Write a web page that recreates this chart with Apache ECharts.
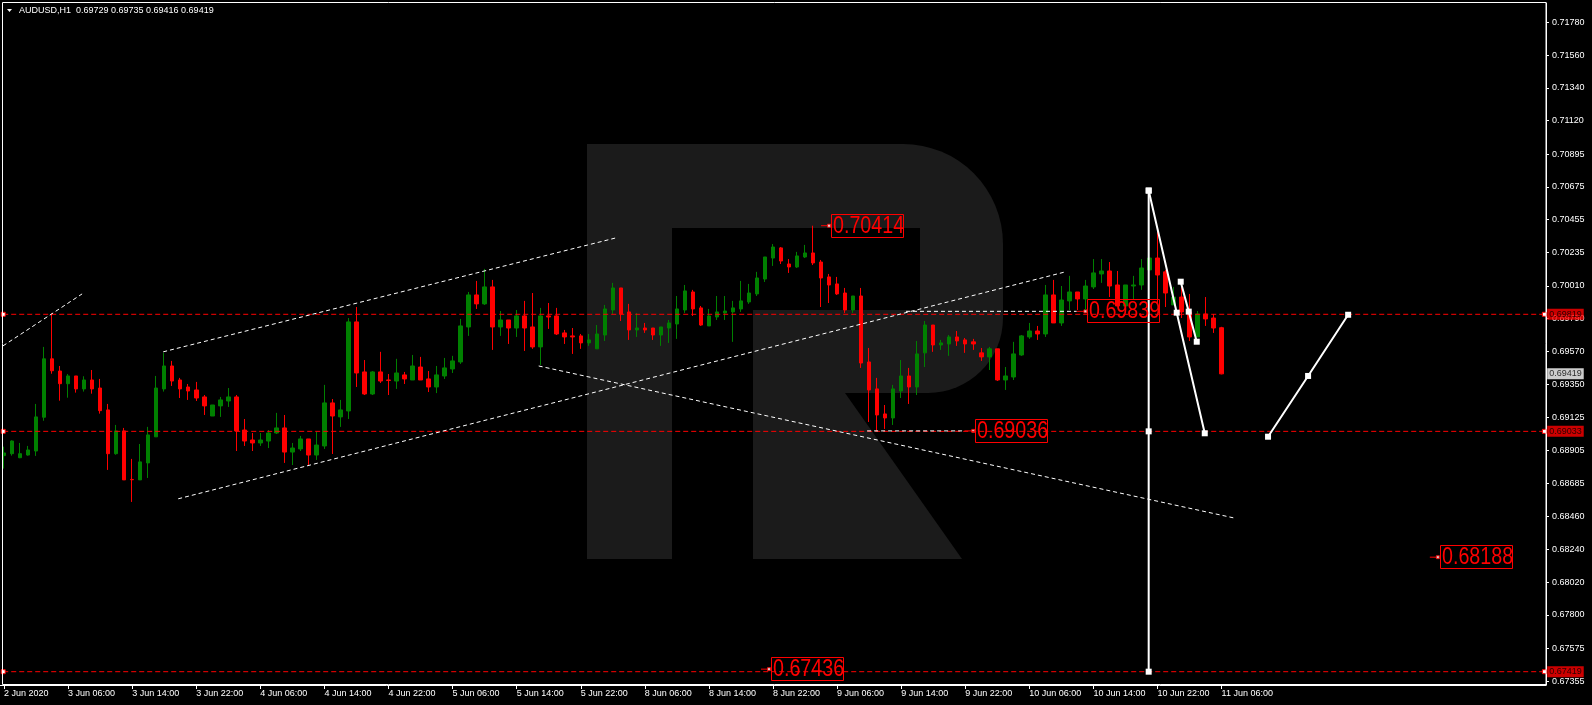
<!DOCTYPE html>
<html><head><meta charset="utf-8">
<script src="https://cdn.jsdelivr.net/npm/echarts@6/dist/echarts.min.js"></script>
<style>html,body{margin:0;padding:0;background:#000;}#c{width:1592px;height:705px;}</style>
</head><body><div id="c"></div>
<script>
// ---------- DATA ----------
const symbolName = 'AUDUSD,H1';
const opens = [0.68870,0.68883,0.68856,0.68874,0.68901,0.69128,0.69520,0.69438,0.69353,0.69405,
0.69318,0.69378,0.69324,0.69177,0.68883,0.69036,0.68710,0.68707,0.68821,0.68996,
0.69318,0.69472,0.69378,0.69331,0.69311,0.69264,0.69136,0.69204,0.69237,0.69264,
0.69042,0.68975,0.68955,0.68968,0.69022,0.69056,0.68894,0.68915,0.68982,0.68874,
0.68935,0.69224,0.69130,0.69170,0.69768,0.69432,0.69284,0.69432,0.69378,0.69371,
0.69412,0.69378,0.69465,0.69385,0.69331,0.69405,0.69452,0.69499,0.69734,0.69949,
0.69889,0.70003,0.69734,0.69781,0.69727,0.69808,0.69734,0.69600,0.69808,0.69808,
0.69694,0.69674,0.69674,0.69627,0.69587,0.69680,0.69848,0.69996,0.69835,0.69714,
0.69727,0.69727,0.69680,0.69727,0.69754,0.69848,0.69969,0.69862,0.69741,0.69801,
0.69828,0.69835,0.69855,0.69902,0.69956,0.70056,0.70197,0.70265,0.70157,0.70137,
0.70204,0.70231,0.70170,0.70070,0.70023,0.69962,0.69848,0.69942,0.69499,0.69318,
0.69150,0.69123,0.69304,0.69405,0.69331,0.69560,0.69747,0.69613,0.69620,0.69667,
0.69647,0.69634,0.69560,0.69533,0.69587,0.69378,0.69398,0.69546,0.69667,0.69707,
0.69687,0.69949,0.69761,0.69909,0.69969,0.69922,0.70003,0.70090,0.70110,0.70016,
0.69875,0.70009,0.70016,0.70117,0.70197,0.70104,0.69882,0.69935,0.69835,0.69667,
0.69821,0.69794,0.69729];
const closes = [0.68888,0.68968,0.68883,0.68908,0.69130,0.69520,0.69440,0.69353,0.69405,0.69318,
0.69378,0.69318,0.69172,0.68883,0.69036,0.68707,0.68708,0.68828,0.69009,0.69324,
0.69472,0.69371,0.69318,0.69304,0.69257,0.69204,0.69210,0.69244,0.69264,0.69036,
0.68968,0.68955,0.68975,0.69022,0.69056,0.68894,0.68921,0.68982,0.68874,0.68941,
0.69224,0.69136,0.69177,0.69768,0.69425,0.69284,0.69432,0.69371,0.69375,0.69425,
0.69385,0.69472,0.69378,0.69331,0.69412,0.69459,0.69506,0.69741,0.69949,0.69889,
0.70003,0.69734,0.69781,0.69727,0.69808,0.69727,0.69600,0.69808,0.69801,0.69687,
0.69667,0.69667,0.69627,0.69647,0.69687,0.69855,0.69996,0.69821,0.69714,0.69727,
0.69714,0.69680,0.69734,0.69761,0.69855,0.69976,0.69855,0.69747,0.69808,0.69835,
0.69841,0.69862,0.69909,0.69962,0.70063,0.70204,0.70271,0.70177,0.70137,0.70211,
0.70231,0.70164,0.70063,0.70016,0.69956,0.69848,0.69942,0.69492,0.69311,0.69143,
0.69123,0.69318,0.69405,0.69331,0.69553,0.69747,0.69613,0.69627,0.69667,0.69640,
0.69620,0.69620,0.69533,0.69587,0.69378,0.69405,0.69553,0.69674,0.69707,0.69687,
0.69949,0.69761,0.69915,0.69969,0.69922,0.70009,0.70097,0.70110,0.70009,0.69875,
0.70016,0.70016,0.70130,0.70197,0.70083,0.69962,0.69935,0.69835,0.69667,0.69821,
0.69788,0.69727,0.69419];
const lows = [0.68783,0.68870,0.68853,0.68870,0.68868,0.69104,0.69420,0.69239,0.69259,0.69293,
0.69300,0.69286,0.69152,0.68774,0.68876,0.68707,0.68559,0.68707,0.68720,0.68996,
0.69300,0.69338,0.69257,0.69244,0.69237,0.69143,0.69136,0.69130,0.69197,0.68901,
0.68935,0.68901,0.68935,0.68921,0.69015,0.68821,0.68807,0.68901,0.68807,0.68841,
0.68915,0.68881,0.69063,0.69116,0.69331,0.69277,0.69277,0.69358,0.69277,0.69318,
0.69351,0.69378,0.69378,0.69297,0.69290,0.69385,0.69425,0.69486,0.69674,0.69855,
0.69882,0.69580,0.69674,0.69620,0.69667,0.69573,0.69587,0.69479,0.69721,0.69680,
0.69620,0.69553,0.69587,0.69607,0.69587,0.69640,0.69821,0.69774,0.69647,0.69667,
0.69694,0.69647,0.69607,0.69627,0.69654,0.69828,0.69808,0.69741,0.69741,0.69781,
0.69781,0.69634,0.69835,0.69889,0.69942,0.70036,0.70144,0.70157,0.70097,0.70130,
0.70197,0.70150,0.69868,0.69895,0.69949,0.69828,0.69828,0.69459,0.69096,0.69036,
0.69049,0.69076,0.69257,0.69217,0.69277,0.69465,0.69567,0.69580,0.69540,0.69607,
0.69560,0.69580,0.69506,0.69445,0.69371,0.69311,0.69378,0.69540,0.69654,0.69647,
0.69667,0.69761,0.69741,0.69848,0.69848,0.69848,0.69989,0.70030,0.69935,0.69875,
0.69848,0.69915,0.69983,0.70117,0.69895,0.69868,0.69882,0.69794,0.69640,0.69667,
0.69741,0.69694,0.69416];
const highs = [0.68930,0.68972,0.68955,0.68935,0.69217,0.69600,0.69826,0.69472,0.69418,0.69405,
0.69403,0.69445,0.69385,0.69217,0.69076,0.69056,0.68848,0.68948,0.69063,0.69405,
0.69560,0.69506,0.69392,0.69351,0.69365,0.69277,0.69210,0.69264,0.69324,0.69277,
0.69116,0.69022,0.69022,0.69042,0.69157,0.69143,0.68955,0.69002,0.68982,0.69029,
0.69345,0.69250,0.69244,0.69794,0.69868,0.69512,0.69438,0.69567,0.69418,0.69520,
0.69432,0.69546,0.69533,0.69438,0.69472,0.69526,0.69540,0.69788,0.69969,0.70043,
0.70124,0.70050,0.69841,0.69781,0.69848,0.69909,0.69962,0.69862,0.69895,0.69862,
0.69714,0.69727,0.69687,0.69687,0.69747,0.69882,0.70030,0.69996,0.69889,0.69828,
0.69761,0.69727,0.69734,0.69781,0.69942,0.70016,0.69983,0.69875,0.69855,0.69942,
0.69942,0.69909,0.70043,0.70023,0.70104,0.70204,0.70291,0.70271,0.70190,0.70238,
0.70285,0.70414,0.70184,0.70090,0.70070,0.69996,0.69942,0.69996,0.69593,0.69392,
0.69210,0.69345,0.69512,0.69459,0.69640,0.69774,0.69747,0.69647,0.69680,0.69707,
0.69660,0.69654,0.69593,0.69600,0.69587,0.69465,0.69634,0.69680,0.69761,0.69741,
0.70016,0.70050,0.70009,0.70077,0.69969,0.70050,0.70190,0.70190,0.70170,0.70110,
0.70016,0.70077,0.70190,0.70197,0.70379,0.70117,0.70003,0.70009,0.69956,0.69841,
0.69935,0.69821,0.69735];
const totalSlots = 193; // bars + empty future hours visible on the chart
const xTickLabels = ['2 Jun 2020','3 Jun 06:00','3 Jun 14:00','3 Jun 22:00','4 Jun 06:00','4 Jun 14:00',
'4 Jun 22:00','5 Jun 06:00','5 Jun 14:00','5 Jun 22:00','8 Jun 06:00','8 Jun 14:00','8 Jun 22:00',
'9 Jun 06:00','9 Jun 14:00','9 Jun 22:00','10 Jun 06:00','10 Jun 14:00','10 Jun 22:00','11 Jun 06:00'];
const yTickValues = [0.71780,0.71560,0.71340,0.71120,0.70895,0.70675,0.70455,0.70235,0.70010,0.69790,
0.69570,0.69350,0.69125,0.68905,0.68685,0.68460,0.68240,0.68020,0.67800,0.67575,0.67355];
const levelLines = [0.69819, 0.69033, 0.67419];
const currentPrice = 0.69419;
// channel lines: [barIndex, price] pairs
const channelLines = [
  [[-0.125,0.69607],[9.75,0.69956]],
  [[19.875,0.69567],[76.375,0.70332]],
  [[21.75,0.68580],[132.5,0.70104]],
  [[66.75,0.69472],[153.5,0.68452]],
  [[107.75,0.69036],[119.9,0.69036]],
  [[112.6,0.69839],[133.9,0.69839]]
];
// price labels: [price, tick start bar, marker bar]
const priceLabels = [
  [0.70414, 102.0, 103.0],
  [0.69036, 119.9, 121.0],
  [0.69839, 133.9, 135.0],
  [0.68188, 178.0, 179.0],
  [0.67436, 94.5, 95.5]
];
// projection polylines
const projections = [
  [[142.9,0.70650],[142.9,0.69033],[142.9,0.67419]],
  [[142.9,0.70650],[146.4,0.69830],[149.9,0.69020]],
  [[146.9,0.70038],[147.9,0.69837],[148.9,0.69635]],
  [[157.8,0.68997],[162.8,0.69405],[167.8,0.69816]]
];

// ---------- CHART ----------
const chart = echarts.init(document.getElementById('c'), null, {renderer:'canvas'});
const cats = [];
for (let i = 0; i < totalSlots; i++) cats.push(String(i));
const candleData = opens.map((o, i) => [o, closes[i], lows[i], highs[i]]);
const last = opens.length - 1;
const FONT = 'Liberation Sans';
const isTick = (i) => i % 8 === 0 && i / 8 < xTickLabels.length;

const series = [];
series.push({
  type: 'candlestick', name: 'AUDUSD', xAxisIndex: 0, yAxisIndex: 0, z: 3,
  data: candleData, barWidth: 4,
  itemStyle: {color: '#008000', color0: '#ff0000', borderColor: '#008000', borderColor0: '#ff0000', borderWidth: 1}
});
levelLines.forEach(v => series.push({
  type: 'line', xAxisIndex: 1, yAxisIndex: 0, z: 4, silent: true,
  data: [[-0.1, v], [192.3, v]],
  symbol: 'rect', symbolSize: 4, showSymbol: true,
  itemStyle: {color: '#ffffff', borderColor: '#ff0000', borderWidth: 1},
  lineStyle: {color: '#ff0000', width: 1, type: [5, 3]}
}));
channelLines.forEach(seg => series.push({
  type: 'line', xAxisIndex: 1, yAxisIndex: 0, z: 4, silent: true,
  data: seg, symbol: 'none',
  lineStyle: {color: '#ffffff', width: 1, type: [4, 3]}
}));
priceLabels.forEach(p => {
  series.push({
    type: 'line', xAxisIndex: 1, yAxisIndex: 0, z: 2, silent: true,
    data: [[p[1], p[0]], [p[2], p[0]]], symbol: 'none',
    lineStyle: {color: '#ff0000', width: 1}
  });
  series.push({
    type: 'scatter', xAxisIndex: 1, yAxisIndex: 0, z: 2, silent: true,
    data: [[p[2], p[0]]], symbol: 'rect', symbolSize: 3,
    itemStyle: {color: '#ffffff', borderColor: '#ff0000', borderWidth: 1}
  });
});
projections.forEach(pts => series.push({
  type: 'line', xAxisIndex: 1, yAxisIndex: 0, z: 5, silent: true,
  data: pts, symbol: 'rect', symbolSize: 6, showSymbol: true,
  itemStyle: {color: '#ffffff'},
  lineStyle: {color: '#ffffff', width: 2}
}));
// axis price tags
const tags = levelLines.map(v => ({value: [192.4, v], bg: '#ff0000'}));
tags.push({value: [192.4, currentPrice], bg: '#ffffff'});
series.push({
  type: 'scatter', xAxisIndex: 1, yAxisIndex: 0, z: 10, silent: true, clip: false,
  symbolSize: 0,
  data: tags.map(t => ({value: t.value, label: {backgroundColor: t.bg}})),
  label: {show: true, position: 'right', distance: 2, formatter: (d) => d.value[1].toFixed(5),
    color: '#000', fontSize: 9, fontFamily: FONT, padding: [1, 2, 1, 2], lineHeight: 9}
});

const baseGraphic = [
  {id: 'wm1', type: 'rect', z: 0, silent: true, shape: {x: 587, y: 144, width: 416, height: 249, r: [0, 100, 75, 0]}, style: {fill: '#1b1b1b'}},
  {id: 'wm2', type: 'rect', z: 0, silent: true, shape: {x: 587, y: 144, width: 85, height: 415}, style: {fill: '#1b1b1b'}},
  {id: 'wm3', type: 'rect', z: 1, silent: true, shape: {x: 672, y: 228, width: 248, height: 82}, style: {fill: '#000000'}},
  {id: 'wm4', type: 'rect', z: 1, silent: true, shape: {x: 672, y: 310, width: 81, height: 83}, style: {fill: '#000000'}},
  {id: 'wm5', type: 'polygon', z: 0, silent: true, shape: {points: [[753, 393], [845, 393], [962, 559], [753, 559]]}, style: {fill: '#1b1b1b'}},
  {id: 'frame', type: 'rect', z: 50, silent: true, shape: {x: 2.5, y: 2.5, width: 1543.5, height: 682}, style: {fill: null, stroke: '#ffffff', lineWidth: 1}},
  {id: 'tri', type: 'polygon', z: 50, silent: true, shape: {points: [[7, 9], [12, 9], [9.5, 12]]}, style: {fill: '#ffffff'}}
];

const option = {
  backgroundColor: '#000000',
  animation: false,
  title: {
    text: symbolName + '  ' + [opens[last], highs[last], lows[last], closes[last]].map(v => v.toFixed(5)).join(' '),
    left: 19, top: 6, padding: 0,
    textStyle: {color: '#ffffff', fontSize: 9, fontWeight: 'normal', fontFamily: FONT}
  },
  graphic: baseGraphic,
  grid: {left: 0, right: 46, top: 3, bottom: 20, show: false},
  xAxis: [
    {type: 'category', data: cats, boundaryGap: true,
      axisLine: {show: true, lineStyle: {color: '#ffffff'}},
      axisTick: {show: true, alignWithLabel: true, interval: (i) => isTick(i), length: 4, lineStyle: {color: '#ffffff'}},
      axisLabel: {interval: (i) => isTick(i), formatter: (v, i) => xTickLabels[Math.round(i / 8)] || '',
        color: '#ffffff', fontSize: 9, fontFamily: FONT, align: 'left', margin: 4},
      splitLine: {show: false}},
    {type: 'value', min: -0.5, max: totalSlots - 0.5, show: false, splitLine: {show: false}}
  ],
  yAxis: [{
    type: 'value', position: 'right', min: 0.673296, max: 0.719096,
    axisLine: {show: true, onZero: false, lineStyle: {color: '#ffffff'}},
    axisTick: {show: true, customValues: yTickValues, length: 3, lineStyle: {color: '#ffffff'}},
    axisLabel: {customValues: yTickValues, formatter: (v) => Number(v).toFixed(5), color: '#ffffff', fontSize: 9, fontFamily: FONT, margin: 6},
    splitLine: {show: false}
  }],
  series: series
};
chart.setOption(option);

// Boxed price texts (narrow, as in the terminal), anchored via the chart's own scales
const labelGraphic = priceLabels.map((p, i) => {
  const pt = chart.convertToPixel({xAxisIndex: 1, yAxisIndex: 0}, [p[2], p[0]]);
  return {
    id: 'plabel' + i, type: 'group', x: Math.round(pt[0]) + 2, y: Math.round(pt[1]) - 12, z: 20, silent: true,
    children: [
      {type: 'rect', z: 20, shape: {x: 0.5, y: 0.5, width: 72, height: 23}, style: {fill: null, stroke: '#ff0000', lineWidth: 1}},
      {type: 'text', z: 20, x: 2, y: 12.5, scaleX: 0.82,
        style: {text: p[0].toFixed(5), fill: '#ff0000', fontSize: 24, fontFamily: FONT, verticalAlign: 'middle', align: 'left'}}
    ]
  };
});
chart.setOption({graphic: baseGraphic.concat(labelGraphic)});
</script>
</body></html>
